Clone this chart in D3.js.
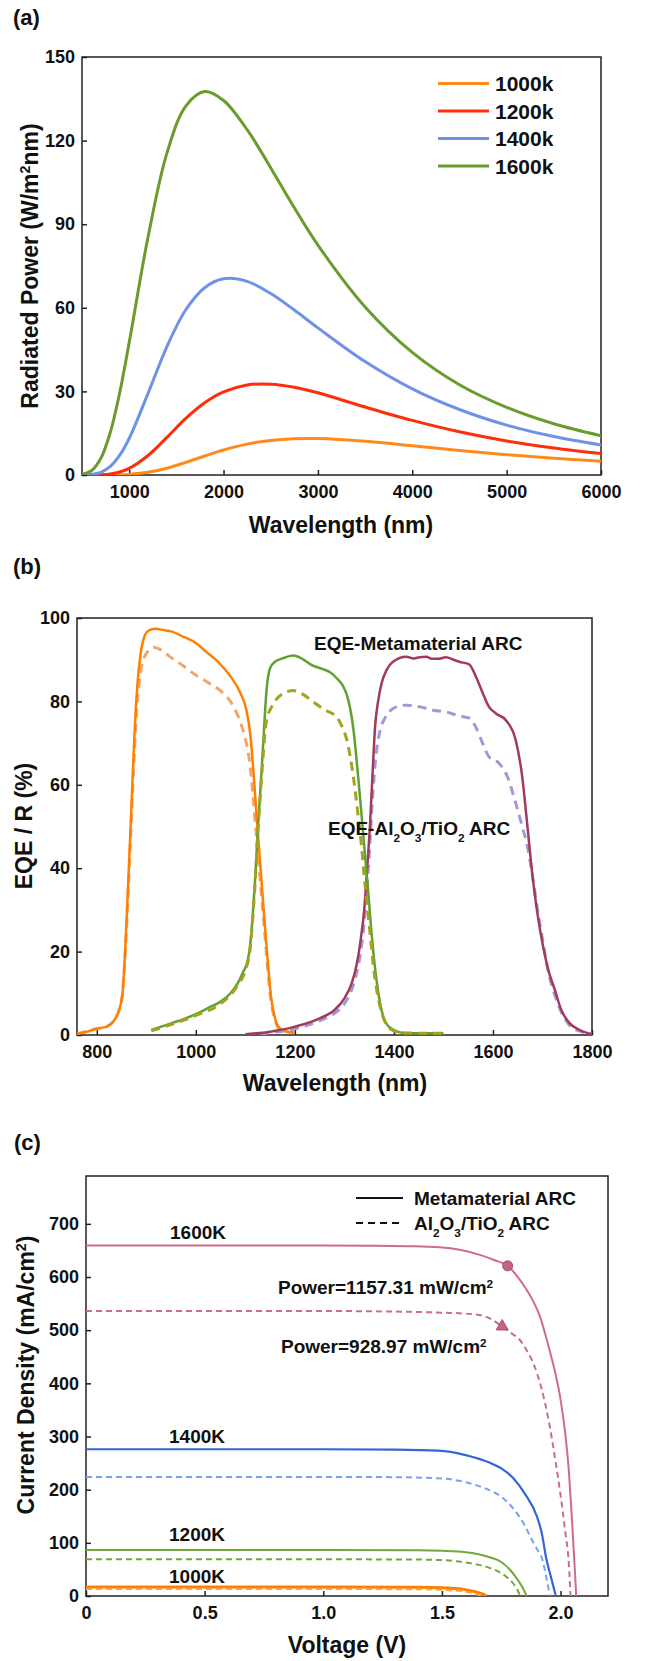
<!DOCTYPE html>
<html>
<head>
<meta charset="utf-8">
<script src="https://cdn.jsdelivr.net/npm/d3@7"></script>
<style>
  body { margin: 0; background: #fff; }
  text { font-family: 'Liberation Sans', Arial, Helvetica, sans-serif; font-weight: bold; fill: #111; }
</style>
</head>
<body>
<script>
// ---- panel (a): radiated power vs wavelength ----
var wavelengths = [500, 600, 700, 800, 900, 1000, 1200, 1400, 1600, 1800, 2000, 2250, 2500, 2750, 3000, 3500, 4000, 4500, 5000, 5500, 6000];
var power1000 = [0, 0, 0, 0.02, 0.07, 0.21, 0.95, 2.44, 4.53, 6.81, 8.97, 11.08, 12.41, 13.04, 13.09, 12.11, 10.51, 8.81, 7.27, 5.98, 4.91];
var power1200 = [0, 0.01, 0.08, 0.36, 1.06, 2.37, 7.0, 13.5, 20.3, 25.9, 29.8, 32.3, 32.6, 31.5, 29.5, 24.4, 19.6, 15.5, 12.2, 9.7, 7.7];
var power1400 = [0.01, 0.18, 0.95, 3.07, 7.1, 13.1, 29.3, 46.1, 59.3, 67.2, 70.4, 69.5, 65.1, 59.2, 52.8, 40.7, 30.9, 23.5, 17.9, 13.8, 10.8];
var power1600 = [0.19, 1.52, 5.99, 15.3, 29.6, 47.5, 85.4, 115.5, 132.4, 137.6, 134.4, 123.9, 110.2, 95.9, 82.5, 60.3, 44.0, 32.4, 24.3, 18.4, 14.1];
var tempLabels = ["1000k", "1200k", "1400k", "1600k"];
var tempColors = ["#ff8a1c", "#ff2e0a", "#6d92e6", "#6a9b2c"];

// ---- panel (b): EQE curves, [wavelength, %] ----
var eqeOrangeMeta = [[760,0.3],[780,0.8],[800,1.5],[820,2],[835,3.5],[845,6],[852,10],[858,22],[864,38],[870,55],[876,72],[882,84],[888,91],[896,95.5],[905,97],[917,97.4],[935,97.1],[950,96.8],[975,95.5],[1000,94],[1020,92],[1045,89.5],[1070,86],[1090,82],[1102,78],[1110,72],[1117,62],[1123,52],[1130,41],[1137,30],[1145,18],[1152,9],[1160,4],[1168,1.8],[1180,1],[1200,0.6]];
var eqeOrangeRef = [[760,0.3],[800,1.5],[820,2],[835,3.5],[845,6],[852,10],[858,21],[864,36],[870,52],[876,68],[882,80],[890,88],[900,91.5],[915,93],[930,92.3],[950,90.5],[975,88.5],[1000,86.3],[1025,84.5],[1050,82.5],[1075,79],[1090,75],[1100,71],[1108,66],[1115,58],[1122,48],[1130,37],[1138,26],[1145,16],[1152,8],[1160,3.5],[1168,1.5],[1180,0.8],[1200,0.5]];
var eqeGreenMeta = [[910,1.2],[930,2],[950,2.8],[975,3.8],[1000,5],[1025,6.5],[1050,8],[1070,10],[1085,12.5],[1095,15],[1105,18],[1110,22],[1115,29],[1120,38],[1125,49],[1130,58],[1136,70],[1143,83],[1150,88],[1160,89.5],[1175,90.3],[1197,91],[1215,90.2],[1234,88.7],[1255,87.8],[1271,87],[1285,85.5],[1298,83.5],[1305,81.5],[1311,78.7],[1318,73.5],[1324,66.7],[1330,59],[1335,52.3],[1341,44],[1347,36],[1353,27],[1360,18],[1368,10.5],[1376,5.5],[1386,2.5],[1400,1.2],[1420,0.5],[1500,0.4]];
var eqeGreenRef = [[910,1],[950,2.5],[1000,4.7],[1050,7.5],[1085,12],[1100,15.5],[1110,21],[1115,28],[1120,37],[1125,48],[1130,57],[1136,67],[1142,75],[1157,79.5],[1175,81.8],[1197,82.6],[1215,81.8],[1237,79.9],[1260,78],[1284,76.3],[1295,74],[1305,70.7],[1318,62],[1328,52.3],[1334,46],[1340,38],[1347,30],[1353,23],[1360,15],[1368,9],[1376,5],[1386,2.3],[1400,1],[1420,0.5],[1500,0.4]];
var eqeRedMeta = [[1100,0.2],[1150,0.8],[1200,2],[1250,4],[1280,6],[1300,8.8],[1315,12.5],[1325,17],[1333,23],[1340,30],[1346,40],[1352,51],[1357,63],[1362,74],[1368,80],[1375,84.3],[1385,87.5],[1398,89.5],[1425,90.7],[1440,90.3],[1452,90.6],[1465,90.7],[1478,90.2],[1490,90.2],[1505,90.6],[1520,90],[1532,89.5],[1552,88.9],[1565,86.1],[1579,82.1],[1592,78.7],[1606,77.1],[1626,75.5],[1646,70.7],[1659,62],[1669,50.8],[1680,38],[1690,29],[1700,22],[1712,15.5],[1725,10.8],[1738,6],[1755,2.8],[1775,1.2],[1790,0.5],[1800,0.2]];
var eqeRedRef = [[1100,0.1],[1150,0.5],[1200,1.5],[1250,3.4],[1280,5.2],[1300,7.5],[1315,11],[1325,15],[1333,20],[1340,27],[1346,36],[1352,47],[1357,57],[1362,65],[1372,73],[1382,76],[1405,78.7],[1425,79.1],[1452,78.7],[1479,77.9],[1505,77.5],[1532,76.5],[1552,76],[1565,73.9],[1579,70],[1592,66.7],[1612,65.2],[1629,62],[1646,55.6],[1659,50],[1670,45],[1680,38],[1690,30],[1700,23],[1712,15],[1725,9.5],[1738,5.5],[1755,2.3],[1775,0.9],[1800,0.2]];

// ---- panel (c): J-V curves, [V, mA/cm2] ----
var jv1600Meta = [[0,659.5],[0.5,659.5],[1.0,659.5],[1.2,659],[1.35,658],[1.49,656],[1.58,651],[1.66,641.7],[1.72,632],[1.777,621],[1.82,600],[1.857,576],[1.89,550],[1.913,526],[1.948,472],[1.975,425],[2.0,370],[2.02,305],[2.035,235],[2.046,160],[2.055,90],[2.062,35],[2.066,0]];
var jv1600Ref = [[0,536],[0.5,536],[1.0,536],[1.3,535],[1.5,533],[1.632,530],[1.70,522.6],[1.754,507],[1.79,495],[1.828,482],[1.86,460],[1.885,438],[1.92,390],[1.95,330],[1.98,250],[2.0,190],[2.02,120],[2.035,60],[2.042,0]];
var jv1400Meta = [[0,276],[0.5,276],[1.0,276],[1.3,275.5],[1.5,273],[1.6,265],[1.7,251],[1.75,240],[1.8,222],[1.85,192],[1.9,150],[1.92,120],[1.941,68],[1.96,35],[1.98,0]];
var jv1400Ref = [[0,224],[0.5,224],[1.0,224],[1.3,223.5],[1.5,221],[1.6,214],[1.7,199],[1.75,187],[1.8,165],[1.85,132],[1.88,105],[1.905,85],[1.924,68],[1.94,35],[1.955,0]];
var jv1200Meta = [[0,86.6],[1.0,86.5],[1.4,86],[1.5,85],[1.6,82.5],[1.65,79],[1.7,73],[1.75,64],[1.79,48],[1.82,30],[1.84,16],[1.857,0]];
var jv1200Ref = [[0,69],[1.0,69],[1.4,68.5],[1.5,67.5],[1.6,63],[1.65,59],[1.7,53],[1.75,43],[1.78,33],[1.8,24],[1.82,10],[1.83,0]];
var jv1000Meta = [[0,16.8],[1.0,16.7],[1.4,16.3],[1.5,15.5],[1.55,14.3],[1.6,12],[1.64,8],[1.67,4],[1.688,0]];
var jv1000Ref = [[0,13.2],[1.0,13.1],[1.4,12.7],[1.5,11.8],[1.55,10.5],[1.6,8],[1.63,5],[1.655,2],[1.67,0]];
var maxPowerMeta = [1.777, 621];
var maxPowerRef = [1.754, 507];

var svg = d3.select("body").append("svg")
    .attr("width", 650)
    .attr("height", 1661);

// draws box, inward ticks and tick labels; returns scales and a clipped group
function makePanel(id, box, xDomain, yDomain, xTicks, yTicks, xFormat) {
    var x = d3.scaleLinear().domain(xDomain).range([box.left, box.right]);
    var y = d3.scaleLinear().domain(yDomain).range([box.bottom, box.top]);

    svg.append("clipPath").attr("id", id).append("rect")
        .attr("x", box.left)
        .attr("y", box.top)
        .attr("width", box.right - box.left)
        .attr("height", box.bottom - box.top);

    var xAxis = svg.append("g")
        .attr("transform", `translate(0, ${box.bottom})`)
        .call(d3.axisBottom(x).tickValues(xTicks).tickSizeInner(-5).tickSizeOuter(0).tickPadding(10).tickFormat(xFormat || d3.format("d")));
    var yAxis = svg.append("g")
        .attr("transform", `translate(${box.left}, 0)`)
        .call(d3.axisLeft(y).tickValues(yTicks).tickSizeInner(-5).tickSizeOuter(0).tickPadding(7));

    [xAxis, yAxis].forEach(function(a) {
        a.select(".domain").remove();
        a.selectAll("line").attr("stroke", "#222").attr("stroke-width", 1.5);
        a.selectAll("text").attr("font-size", 18).attr("fill", "#111");
    });

    svg.append("rect")
        .attr("x", box.left)
        .attr("y", box.top)
        .attr("width", box.right - box.left)
        .attr("height", box.bottom - box.top)
        .attr("fill", "none")
        .attr("stroke", "#222")
        .attr("stroke-width", 1.5);

    var plot = svg.append("g").attr("clip-path", `url(#${id})`);
    return { x: x, y: y, plot: plot };
}

function drawCurve(p, data, color, width, dash, curve) {
    var line = d3.line()
        .x(d => p.x(d[0]))
        .y(d => p.y(d[1]))
        .curve(curve || d3.curveMonotoneX);
    p.plot.append("path")
        .datum(data)
        .attr("d", line)
        .attr("fill", "none")
        .attr("stroke", color)
        .attr("stroke-width", width)
        .attr("stroke-linejoin", "round")
        .attr("stroke-dasharray", dash || null);
}

// text made of pieces = [[text, "sup"|"sub"|null], ...], optionally rotated
function addText(parent, x, y, size, pieces, rotate) {
    var t = parent.append("text")
        .attr("font-size", size)
        .attr("transform", `translate(${x}, ${y})` + (rotate ? " rotate(-90)" : ""))
        .attr("text-anchor", rotate ? "middle" : "start");
    pieces.forEach(function(pc) {
        var s = t.append("tspan").text(pc[0]);
        if (pc[1] === "sup") s.attr("baseline-shift", "super").attr("font-size", size * 0.62);
        if (pc[1] === "sub") s.attr("baseline-shift", "sub").attr("font-size", size * 0.62);
    });
    return t;
}

function panelLabel(txt, x, y) {
    svg.append("text").attr("x", x).attr("y", y).attr("font-size", 22).text(txt);
}

// ================= (a) =================
panelLabel("(a)", 13, 25);
var pa = makePanel("clipA", { left: 82, right: 601, top: 57, bottom: 475 },
    [500, 6000], [0, 150], [1000, 2000, 3000, 4000, 5000, 6000], [0, 30, 60, 90, 120, 150]);

[power1000, power1200, power1400, power1600].forEach(function(vals, i) {
    var pts = wavelengths.map((w, j) => [w, vals[j]]);
    drawCurve(pa, pts, tempColors[i], 3, null, d3.curveCatmullRom.alpha(0.5));
});

tempLabels.forEach(function(lab, i) {
    var ly = 83.5 + i * 27.5;
    svg.append("line")
        .attr("x1", 438).attr("x2", 489)
        .attr("y1", ly).attr("y2", ly)
        .attr("stroke", tempColors[i])
        .attr("stroke-width", 3);
    svg.append("text")
        .attr("x", 495).attr("y", ly + 7.5)
        .attr("font-size", 21)
        .text(lab);
});

svg.append("text").attr("x", 341).attr("y", 533).attr("font-size", 23)
    .attr("text-anchor", "middle").text("Wavelength (nm)");
addText(svg, 38, 266, 23, [["Radiated Power (W/m"], ["2", "sup"], ["nm)"]], true);

// ================= (b) =================
panelLabel("(b)", 13, 574);
var pb = makePanel("clipB", { left: 77, right: 592, top: 618, bottom: 1035 },
    [760, 1800], [0, 100], [800, 1000, 1200, 1400, 1600, 1800], [0, 20, 40, 60, 80, 100]);

drawCurve(pb, eqeOrangeRef, "#f2a66a", 3, "9,6");
drawCurve(pb, eqeOrangeMeta, "#ff8000", 2.5);
drawCurve(pb, eqeRedRef, "#a397d8", 3, "9,6");
drawCurve(pb, eqeRedMeta, "#a23a5c", 2.5);
drawCurve(pb, eqeGreenMeta, "#62a032", 2.5);
drawCurve(pb, eqeGreenRef, "#a3a31e", 3, "9,6");

addText(svg, 314, 650, 19, [["EQE-Metamaterial ARC"]]);
addText(svg, 328, 835, 19, [["EQE-Al"], ["2", "sub"], ["O"], ["3", "sub"], ["/TiO"], ["2", "sub"], [" ARC"]]);

svg.append("text").attr("x", 335).attr("y", 1091).attr("font-size", 23)
    .attr("text-anchor", "middle").text("Wavelength (nm)");
addText(svg, 32, 826, 23, [["EQE / R (%)"]], true);

// ================= (c) =================
panelLabel("(c)", 14, 1150);
var pc = makePanel("clipC", { left: 86, right: 608, top: 1176, bottom: 1596 },
    [0, 2.2], [0, 790], [0, 0.5, 1.0, 1.5, 2.0], [0, 100, 200, 300, 400, 500, 600, 700],
    d => d === 0 ? "0" : d3.format(".1f")(d));

drawCurve(pc, jv1600Ref, "#cc6e88", 2, "6,4");
drawCurve(pc, jv1600Meta, "#cc6e88", 2);
drawCurve(pc, jv1400Ref, "#7aa0f0", 2, "6,4");
drawCurve(pc, jv1400Meta, "#3566d6", 2.2);
drawCurve(pc, jv1200Ref, "#72a83a", 2, "6,4");
drawCurve(pc, jv1200Meta, "#72a83a", 2);
drawCurve(pc, jv1000Meta, "#ff7f00", 3);
drawCurve(pc, jv1000Ref, "#ffa030", 2, "6,4");

svg.append("circle")
    .attr("cx", pc.x(maxPowerMeta[0]))
    .attr("cy", pc.y(maxPowerMeta[1]))
    .attr("r", 5)
    .attr("fill", "#c46580")
    .attr("stroke", "#a84a66")
    .attr("stroke-width", 1);
svg.append("path")
    .attr("d", d3.symbol(d3.symbolTriangle).size(62)())
    .attr("transform", `translate(${pc.x(maxPowerRef[0])}, ${pc.y(maxPowerRef[1])})`)
    .attr("fill", "#c46580")
    .attr("stroke", "#a84a66")
    .attr("stroke-width", 1);

addText(svg, 170, 1239, 19, [["1600K"]]);
addText(svg, 169, 1443, 19, [["1400K"]]);
addText(svg, 169, 1541, 19, [["1200K"]]);
addText(svg, 169, 1583, 19, [["1000K"]]);
addText(svg, 278, 1294, 19, [["Power=1157.31 mW/cm"], ["2", "sup"]]);
addText(svg, 281, 1353, 19, [["Power=928.97 mW/cm"], ["2", "sup"]]);

// legend
svg.append("line").attr("x1", 356).attr("x2", 403).attr("y1", 1198).attr("y2", 1198)
    .attr("stroke", "#111").attr("stroke-width", 2);
svg.append("line").attr("x1", 356).attr("x2", 403).attr("y1", 1223).attr("y2", 1223)
    .attr("stroke", "#111").attr("stroke-width", 2).attr("stroke-dasharray", "7,5");
addText(svg, 414, 1205, 19, [["Metamaterial ARC"]]);
addText(svg, 414, 1230, 19, [["Al"], ["2", "sub"], ["O"], ["3", "sub"], ["/TiO"], ["2", "sub"], [" ARC"]]);

svg.append("text").attr("x", 347).attr("y", 1653).attr("font-size", 23)
    .attr("text-anchor", "middle").text("Voltage (V)");
addText(svg, 34, 1375, 23, [["Current Density (mA/cm"], ["2", "sup"], [")"]], true);
</script>
</body>
</html>
